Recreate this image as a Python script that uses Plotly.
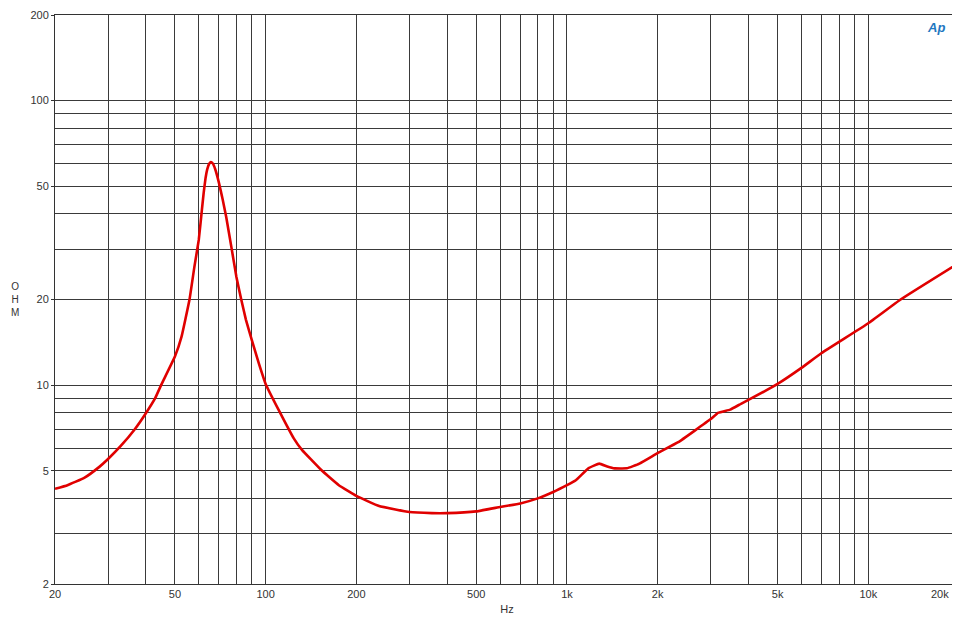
import plotly.graph_objects as go

freq_hz = [20, 22, 25, 28, 30, 33, 36.8, 40, 43, 45, 50, 52.6, 55.9, 58, 60, 61.4, 62.3, 63.2,
           64, 64.9, 65.8, 66.8, 68, 70, 72, 74, 77, 80, 83, 86, 90, 95, 100, 111, 124, 132,
           153, 175, 200, 238, 300, 356, 400, 500, 600, 700, 800, 900, 1000, 1070, 1180, 1280,
           1360, 1440, 1580, 1740, 2000, 2340, 3000, 3180, 3480, 3780, 4000, 5000, 6000, 7000,
           10000, 12800, 20000]
impedance_ohm = [4.32, 4.45, 4.72, 5.15, 5.5, 6.1, 7.0, 7.95, 9.0, 10.0, 12.6, 14.8, 20, 26,
                 32.4, 41, 47.5, 53.5, 57.3, 59.9, 60.8, 60.1, 57.5, 51.4, 45, 39, 30.5, 24,
                 20, 17, 14.4, 11.9, 10.1, 8.1, 6.5, 5.92, 5.03, 4.45, 4.08, 3.76, 3.58, 3.55,
                 3.55, 3.6, 3.73, 3.84, 4.0, 4.21, 4.45, 4.63, 5.11, 5.3, 5.18, 5.1, 5.1, 5.3,
                 5.77, 6.3, 7.6, 8.0, 8.2, 8.6, 8.87, 10.1, 11.5, 12.97, 16.5, 20, 26.9]

x_tick_vals = [20, 50, 100, 200, 500, 1000, 2000, 5000, 10000, 20000]
x_tick_text = ["20", "50", "100", "200", "500", "1k", "2k", "5k", "10k", ""]
x_minor_vals = [30, 40, 60, 70, 80, 90, 300, 400, 600, 700, 800, 900,
                3000, 4000, 6000, 7000, 8000, 9000]
y_tick_vals = [2, 5, 10, 20, 50, 100, 200]
y_tick_text = ["2", "5", "10", "20", "50", "100", "200"]
y_minor_vals = [3, 4, 6, 7, 8, 9, 30, 40, 60, 70, 80, 90]

grid_col = "#3a3a3a"
font_fam = "Liberation Sans, Arial, sans-serif"

fig = go.Figure()
fig.add_trace(go.Scatter(x=freq_hz, y=impedance_ohm, mode="lines",
                         line=dict(color="#e00000", width=2.6, shape="spline", smoothing=0.3),
                         hoverinfo="x+y", showlegend=False))

# page body has an 8px default margin, so the figure is sized/offset to compensate
fig.update_layout(
    width=952, height=617,
    margin=dict(l=47, r=1, t=7, b=41),
    paper_bgcolor="white", plot_bgcolor="white",
    font=dict(family=font_fam, size=11, color="#333333"),
    xaxis=dict(type="log", range=[1.30103, 4.30103], tickmode="array",
               tickvals=x_tick_vals, ticktext=x_tick_text,
               showgrid=True, gridcolor=grid_col, gridwidth=1,
               minor=dict(tickmode="array", tickvals=x_minor_vals, showgrid=True,
                          gridcolor=grid_col, gridwidth=1, ticks=""),
               showline=True, linecolor="#333333", linewidth=1, mirror=True,
               ticks="", zeroline=False, automargin=False,
               title=dict(text="Hz", font=dict(size=11, color="#333333"), standoff=6)),
    yaxis=dict(type="log", range=[0.30103, 2.30103], tickmode="array",
               tickvals=y_tick_vals, ticktext=y_tick_text,
               showgrid=True, gridcolor=grid_col, gridwidth=1,
               minor=dict(tickmode="array", tickvals=y_minor_vals, showgrid=True,
                          gridcolor=grid_col, gridwidth=1, ticks=""),
               showline=True, linecolor="#333333", linewidth=1, mirror=True,
               ticks="outside", ticklen=3, tickcolor="#333333", zeroline=False,
               automargin=False),
)

fig.add_annotation(x=4.30103, y=0, xref="x", yref="paper", text="20k", showarrow=False,
                   xanchor="right", yanchor="top", yshift=-2, xshift=-8,
                   font=dict(family=font_fam, size=11, color="#333333"))
fig.add_annotation(x=0, y=0.5, xref="paper", yref="paper", xanchor="center",
                   text="O<br>H<br>M", showarrow=False, xshift=-40,
                   font=dict(family=font_fam, size=10, color="#333333"))
fig.add_annotation(x=0.975, y=0.978, xref="paper", yref="paper", text="<i><b>Ap</b></i>",
                   showarrow=False, xanchor="center", yanchor="middle",
                   font=dict(family=font_fam, size=13, color="#1f78c1"))

fig.write_html("out.html")
